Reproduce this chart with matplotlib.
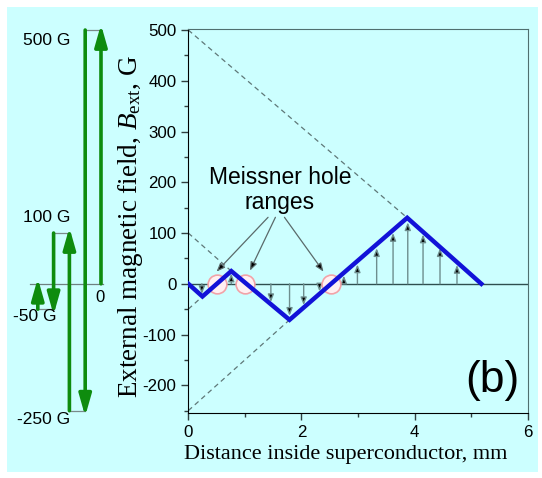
import numpy as np
import matplotlib
matplotlib.use('Agg')
import matplotlib.pyplot as plt
from matplotlib.patches import Rectangle

plt.rcParams['font.family'] = ['Liberation Sans', 'DejaVu Sans']
plt.rcParams['mathtext.fontset'] = 'custom'
plt.rcParams['mathtext.rm'] = 'Liberation Serif'
plt.rcParams['mathtext.it'] = 'Liberation Serif:italic'
plt.rcParams['axes.unicode_minus'] = False

# field sequence applied to the sample, G
field_steps = [0, 500, -250, 100, -50, 0]
step_labels = ['500 G', '-250 G', '100 G', '-50 G', '']

# remanent flux profile (Bean model), vertices
profile_x = [0, 0.25, 0.76, 1.79, 3.87, 5.18]
profile_b = [0, -25, 25, -71, 130, 0]

# extrapolated critical-state slopes
guide_x0 = [0, 0, 0, 0]
guide_b0 = [500, 100, -50, -250]
guide_x1 = [3.87, 0.76, 0.25, 1.79]
guide_b1 = [130, 25, -25, -71]

# local field arrows
arrow_x = [0.24, 0.76, 1.46, 1.79, 2.04, 2.32, 2.75, 2.99, 3.33, 3.62, 3.88, 4.15, 4.45, 4.75]
arrow_b = [-20, 20, -36, -63, -42, -15, 16, 38, 70, 100, 121, 97, 70, 37]

# zero crossings (Meissner holes)
hole_x = [0.5, 1.01, 2.53]

bg = '#ccffff'
green = '#0e8c0e'

fig = plt.figure(figsize=(5.42, 4.78), dpi=100)
fig.patch.set_facecolor('white')
fig.patches.append(Rectangle((7 / 542, 6 / 478), 531 / 542, 465 / 478,
                             transform=fig.transFigure, facecolor=bg,
                             edgecolor='none', zorder=-10))

ylim = (-254, 502)
ax = fig.add_axes([0.3474, 0.1366, 0.6262, 0.8027])
ax.set_facecolor(bg)
ax.set_xlim(0, 6)
ax.set_ylim(*ylim)

ax.axhline(0, color='#2f4f4f', lw=1, zorder=1)

for x0, b0, x1, b1 in zip(guide_x0, guide_b0, guide_x1, guide_b1):
    ax.plot([x0, x1], [b0, b1], ls=(0, (4, 3)), color='#5f7878', lw=0.9, zorder=1)

for x, b in zip(arrow_x, arrow_b):
    ax.annotate('', xy=(x, b), xytext=(x, 0),
                arrowprops=dict(arrowstyle='-|>,head_length=0.45,head_width=0.18',
                                color='#6e8e8e', lw=1, shrinkA=0, shrinkB=0,
                                fc='black', ec='#6e8e8e'), zorder=2)

ax.plot(hole_x, [0] * len(hole_x), 'o', ms=13.5, mfc='#fff0f2', mec='#f2a3a8',
        mew=1.2, zorder=3)

ax.plot(profile_x, profile_b, color='#1212d8', lw=3.2, solid_joinstyle='miter', zorder=4)

# labels pointing at the holes
ax.text(1.62, 184, 'Meissner hole\nranges', ha='center', va='center',
        fontsize=16.5, linespacing=1.12)
starts = [(1.41, 131), (1.54, 131), (1.70, 131)]
ends = [(0.5, 24), (1.09, 26), (2.39, 24)]
for s, e in zip(starts, ends):
    ax.annotate('', xy=e, xytext=s,
                arrowprops=dict(arrowstyle='-|>,head_length=0.5,head_width=0.2',
                                color='#5a6a6a', lw=0.9, shrinkA=0, shrinkB=0,
                                fc='black'))

ax.text(5.38, -190, '(b)', ha='center', va='center', fontsize=32)

ax.set_yticks(np.arange(-200, 501, 100))
ax.set_yticks(np.arange(-250, 501, 50), minor=True)
ax.set_xticks(np.arange(0, 7, 2))
ax.set_xticks(np.arange(0, 7, 1), minor=True)
ax.tick_params(which='both', direction='out', labelsize=12.2, color='#2f3f3f')
ax.tick_params(which='major', length=5, width=1)
ax.tick_params(which='minor', length=3, width=1)
for side in ['top', 'right']:
    ax.spines[side].set_color('#4f6f6f')
for side in ['left', 'bottom']:
    ax.spines[side].set_color('black')

ax.set_xlabel('Distance inside superconductor, mm', family='Liberation Serif',
              fontsize=16)
ax.xaxis.set_label_coords(0.465, -0.085)
ax.set_ylabel(r'External magnetic field, $B_{\rm ext}$, G', family='Liberation Serif',
              fontsize=19.5)
ax.yaxis.set_label_coords(-0.128, 0.485)

# field sequence sketch on the left, sharing the field scale
ax2 = fig.add_axes([0, 0.1366, 0.3474, 0.8027])
ax2.set_xlim(0, 188.3)
ax2.set_ylim(*ylim)
ax2.axis('off')

x_first = 101
dx = 15.8
label_right = [70, 70, 70, 57]
label_offset = [-20, -18, 30, -15]
ax2.plot([30, x_first + 2], [0, 0], color='#6e8080', lw=0.9)
ax2.text(x_first - 1, -12, '0', ha='center', va='top', fontsize=12)

for i in range(len(field_steps) - 1):
    xa = x_first - i * dx
    b_from, b_to = field_steps[i], field_steps[i + 1]
    ax2.annotate('', xy=(xa, b_to + np.sign(b_to - b_from) * 11), xytext=(xa, b_from),
                 arrowprops=dict(arrowstyle='-|>,head_length=1.3,head_width=0.37',
                                 color=green, lw=2.6, shrinkA=0, shrinkB=0),
                 annotation_clip=False)
    if i < len(field_steps) - 2:
        ax2.plot([xa - dx, xa], [b_to, b_to], color='#7a8a8a', lw=0.9, clip_on=False)
    if step_labels[i]:
        ax2.text(label_right[i], b_to + label_offset[i], step_labels[i],
                 ha='right', va='center', fontsize=12.5)

fig.savefig('out.png', dpi=100, facecolor=fig.get_facecolor())
